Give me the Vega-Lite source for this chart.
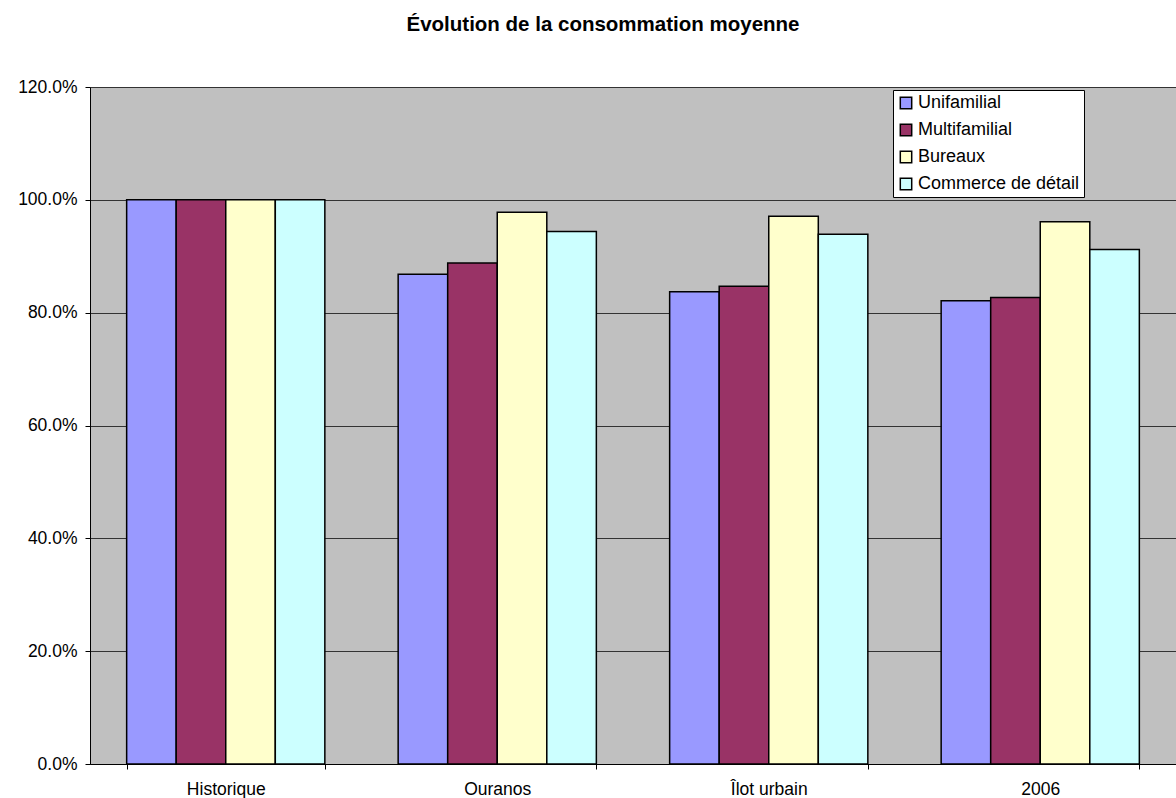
{
  "$schema": "https://vega.github.io/schema/vega-lite/v6.json",
  "width": 1086,
  "height": 677,
  "autosize": {"type": "none"},
  "padding": {"left": 90, "top": 87, "right": 0, "bottom": 34},
  "background": "white",
  "title": {
    "text": "Évolution de la consommation moyenne",
    "font": "Liberation Sans",
    "fontSize": 20.5,
    "fontWeight": "bold",
    "color": "black",
    "anchor": "middle",
    "dx": -30,
    "offset": 43
  },
  "config": {
    "font": "Liberation Sans",
    "view": {"fill": "#C0C0C0", "stroke": "#808080", "strokeWidth": 1}
  },
  "data": {
    "values": [
      {"scenario": "Historique", "type": "Unifamilial", "value": 1.0},
      {"scenario": "Historique", "type": "Multifamilial", "value": 1.0},
      {"scenario": "Historique", "type": "Bureaux", "value": 1.0},
      {"scenario": "Historique", "type": "Commerce de détail", "value": 1.0},
      {"scenario": "Ouranos", "type": "Unifamilial", "value": 0.868},
      {"scenario": "Ouranos", "type": "Multifamilial", "value": 0.888},
      {"scenario": "Ouranos", "type": "Bureaux", "value": 0.978},
      {"scenario": "Ouranos", "type": "Commerce de détail", "value": 0.944},
      {"scenario": "Îlot urbain", "type": "Unifamilial", "value": 0.837},
      {"scenario": "Îlot urbain", "type": "Multifamilial", "value": 0.847},
      {"scenario": "Îlot urbain", "type": "Bureaux", "value": 0.971},
      {"scenario": "Îlot urbain", "type": "Commerce de détail", "value": 0.939},
      {"scenario": "2006", "type": "Unifamilial", "value": 0.821},
      {"scenario": "2006", "type": "Multifamilial", "value": 0.827},
      {"scenario": "2006", "type": "Bureaux", "value": 0.961},
      {"scenario": "2006", "type": "Commerce de détail", "value": 0.912}
    ]
  },
  "mark": {"type": "bar", "stroke": "black", "strokeWidth": 1.5},
  "encoding": {
    "x": {
      "field": "scenario",
      "type": "nominal",
      "sort": ["Historique", "Ouranos", "Îlot urbain", "2006"],
      "scale": {"paddingInner": 0.27, "paddingOuter": 0.135},
      "axis": {
        "title": null,
        "labelAngle": 0,
        "labelFontSize": 17.5,
        "labelColor": "black",
        "labelPadding": 11,
        "tickBand": "extent",
        "tickColor": "black",
        "tickSize": 5,
        "domainColor": "black",
        "grid": false
      }
    },
    "xOffset": {
      "field": "type",
      "sort": ["Unifamilial", "Multifamilial", "Bureaux", "Commerce de détail"],
      "scale": {"paddingInner": 0, "paddingOuter": 0}
    },
    "y": {
      "field": "value",
      "type": "quantitative",
      "scale": {"domain": [0, 1.2], "nice": false},
      "axis": {
        "title": null,
        "format": ".1%",
        "values": [0, 0.2, 0.4, 0.6, 0.8, 1.0, 1.2],
        "labelFontSize": 17.5,
        "labelColor": "black",
        "labelPadding": 8,
        "tickColor": "black",
        "tickSize": 5,
        "domainColor": "black",
        "grid": true,
        "gridColor": "#333333",
        "gridWidth": 1
      }
    },
    "color": {
      "field": "type",
      "type": "nominal",
      "sort": ["Unifamilial", "Multifamilial", "Bureaux", "Commerce de détail"],
      "scale": {
        "domain": ["Unifamilial", "Multifamilial", "Bureaux", "Commerce de détail"],
        "range": ["#9999FF", "#993366", "#FFFFCC", "#CCFFFF"]
      },
      "legend": {
        "title": null,
        "orient": "none",
        "legendX": 803,
        "legendY": 3,
        "fillColor": "white",
        "strokeColor": "black",
        "padding": 4,
        "symbolType": "square",
        "symbolSize": 130,
        "symbolStrokeColor": "black",
        "symbolStrokeWidth": 1.5,
        "symbolOpacity": 1,
        "labelFontSize": 18,
        "labelLimit": 400,
        "labelColor": "black",
        "labelOffset": 3,
        "rowPadding": 9
      }
    }
  }
}
